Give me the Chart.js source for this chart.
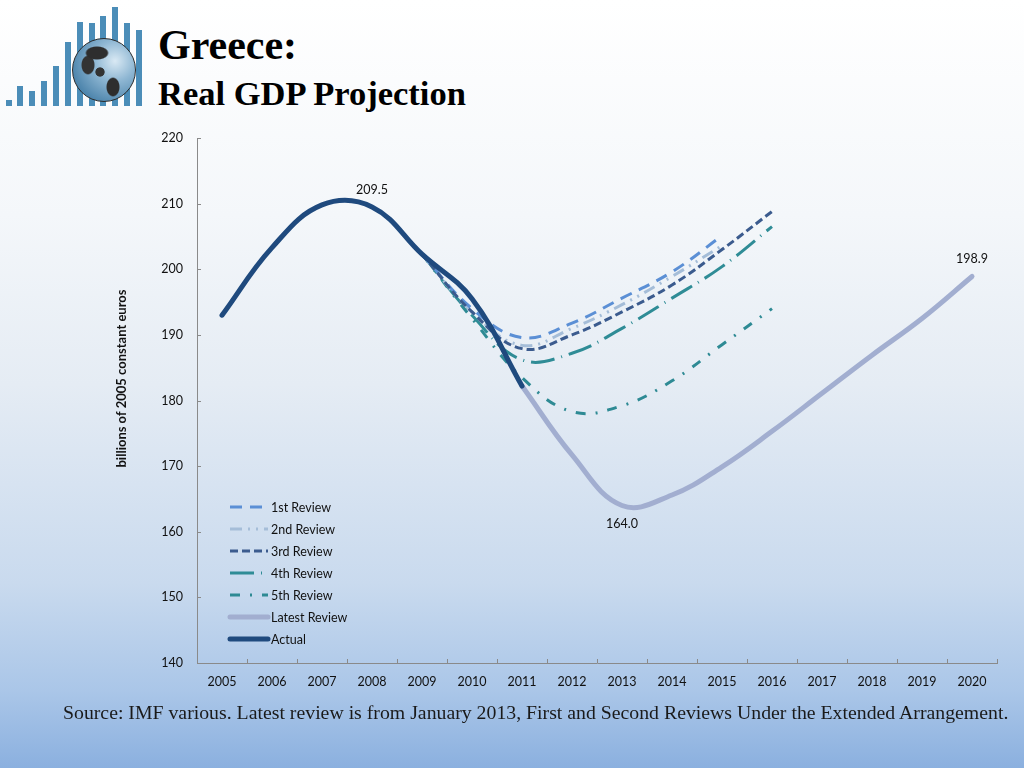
<!DOCTYPE html>
<html>
<head>
<meta charset="utf-8">
<script src="https://cdn.jsdelivr.net/npm/chart.js@4.4.1/dist/chart.umd.min.js"></script>
<style>
  html, body { margin: 0; padding: 0; }
  body {
    width: 1024px; height: 768px; position: relative; overflow: hidden;
    background: linear-gradient(to bottom, #ffffff 0%, #f4f7fa 28%, #e5ecf4 50%, #c9daee 76%, #aac6e8 90%, #8bb0df 100%);
  }
  #chart { position: absolute; left: 0; top: 0; }
  #logo { position: absolute; left: 0; top: 0; width: 150px; height: 110px; }
  .bar { position: absolute; width: 6px; background: #4b8db8; }
  #globe {
    position: absolute; left: 72px; top: 38px; width: 62px; height: 62px; border-radius: 50%;
    border: 1.5px solid #2c2c2c;
    background:
      radial-gradient(ellipse 12px 7px at 24px 14px, #2e2e2e 85%, transparent 100%),
      radial-gradient(ellipse 7px 10px at 15px 26px, #333 85%, transparent 100%),
      radial-gradient(ellipse 5px 5px at 27px 33px, #333 85%, transparent 100%),
      radial-gradient(ellipse 7px 10px at 40px 48px, #2e2e2e 85%, transparent 100%),
      radial-gradient(circle at 42px 22px, #d9e9f4 0%, #8fb7d3 35%, #4f86ad 75%, #3a6d93 100%);
  }
  .title { position: absolute; left: 158px; font-family: "Liberation Serif", serif; font-weight: bold; color: #000; white-space: nowrap; }
  #t1 { top: 20px; font-size: 42px; line-height: 50px; }
  #t2 { top: 73px; font-size: 34.5px; line-height: 40px; }
  #source {
    position: absolute; left: 63px; top: 703px; font-family: "Liberation Serif", serif;
    font-size: 18px; color: #1a1a1a; white-space: nowrap; transform-origin: left center;
  }
</style>
</head>
<body>
<div id="logo"></div>
<div class="title" id="t1">Greece:</div>
<div class="title" id="t2">Real GDP Projection</div>
<canvas id="chart" width="1024" height="768"></canvas>
<div id="source">Source: IMF various. Latest review is from January 2013, First and Second Reviews Under the Extended Arrangement.</div>
<script>
// data (billions of 2005 constant euros)
const years = ['2005', '2006', '2007', '2008', '2009', '2010', '2011', '2012',
  '2013', '2014', '2015', '2016', '2017', '2018', '2019', '2020'];
const actual = [193.0, 203.3, 209.8, 209.5, 202.3, 195.5, 182.2,
  null, null, null, null, null, null, null, null, null];
const review1 = [null, null, null, null, 202.3, 194.0, 189.6, 191.8, 195.6, 199.6, 205.1,
  null, null, null, null, null];
const review2 = [null, null, null, null, 202.3, 193.5, 188.4, 191.0, 194.6, 198.9, 203.6,
  null, null, null, null, null];
const review3 = [null, null, null, null, 202.3, 193.5, 187.9, 190.0, 193.5, 197.6, 203.0, 208.8,
  null, null, null, null];
const review4 = [null, null, null, null, 202.3, 193.0, 186.2, 187.2, 191.0, 195.6, 200.4, 206.5,
  null, null, null, null];
const review5 = [null, null, null, null, 202.3, 192.5, 183.5, 178.3, 179.2, 183.0, 188.5, 194.0,
  null, null, null, null];
const latest = [null, null, null, null, null, null, 182.2, 171.7, 164.0, 165.6, 169.9, 175.3,
  181.1, 186.9, 192.5, 198.9];
const yTicks = [140, 220, 10]; // min, max, step
const yTitle = 'billions of 2005 constant euros';
const valueLabels = [
  { series: 'Actual', year: '2008', dy: -17 },
  { series: 'Latest Review', year: '2013', dy: 18 },
  { series: 'Latest Review', year: '2020', dy: -18 }
];

// logo bars (decoration)
const logoBars = [[6, 100], [17, 86], [29, 91], [41, 81], [53, 66], [65, 42], [77, 22], [89, 23], [100, 16], [112, 7], [124, 23], [136, 30]];
const logo = document.getElementById('logo');
logoBars.forEach(([x, top]) => {
  const b = document.createElement('div');
  b.className = 'bar';
  b.style.left = x + 'px';
  b.style.top = top + 'px';
  b.style.height = (106 - top) + 'px';
  logo.appendChild(b);
});
const globe = document.createElement('div');
globe.id = 'globe';
logo.appendChild(globe);

const src = document.getElementById('source');
src.style.transform = 'scaleX(' + (945 / src.offsetWidth) + ')';

const FONT = 'Lato';

const insideTicks = {
  id: 'insideTicks',
  afterDraw(chart) {
    const { ctx, chartArea, scales } = chart;
    ctx.save();
    ctx.strokeStyle = '#8a8a8a';
    ctx.lineWidth = 1;
    scales.y.ticks.forEach((t, i) => {
      const y = Math.round(scales.y.getPixelForTick(i)) + 0.5;
      ctx.beginPath();
      ctx.moveTo(chartArea.left, y);
      ctx.lineTo(chartArea.left + 4, y);
      ctx.stroke();
    });
    const step = scales.x.width / years.length;
    for (let i = 1; i <= years.length; i++) {
      const x = Math.round(scales.x.left + i * step) + 0.5;
      ctx.beginPath();
      ctx.moveTo(x, chartArea.bottom);
      ctx.lineTo(x, chartArea.bottom - 4);
      ctx.stroke();
    }
    // y axis title, sitting a bit above the middle like the original
    ctx.translate(chartArea.left - 75, (chartArea.top + chartArea.bottom) / 2 - 22);
    ctx.rotate(-Math.PI / 2);
    ctx.font = 'bold 13px ' + FONT;
    ctx.fillStyle = '#111';
    ctx.textAlign = 'center';
    ctx.textBaseline = 'middle';
    ctx.fillText(yTitle, 0, 0);
    ctx.restore();
  }
};

const pointLabels = {
  id: 'pointLabels',
  afterDatasetsDraw(chart) {
    const { ctx, scales } = chart;
    ctx.save();
    ctx.font = '12.5px ' + FONT;
    ctx.fillStyle = '#111';
    ctx.textAlign = 'center';
    ctx.textBaseline = 'middle';
    valueLabels.forEach(l => {
      const ds = chart.data.datasets.find(d => d.label === l.series);
      const idx = years.indexOf(l.year);
      const v = ds.data[idx];
      ctx.fillText(v.toFixed(1), scales.x.getPixelForValue(idx), scales.y.getPixelForValue(v) + l.dy);
    });
    ctx.restore();
  }
};

const lineLegend = {
  id: 'lineLegend',
  afterDraw(chart) {
    const { ctx, chartArea } = chart;
    ctx.save();
    ctx.font = '12.5px ' + FONT;
    ctx.fillStyle = '#111';
    ctx.textBaseline = 'middle';
    chart.data.datasets.forEach((ds, i) => {
      const y = chartArea.bottom - 156 + i * 22;
      const x0 = chartArea.left + 33;
      ctx.strokeStyle = ds.borderColor;
      ctx.lineWidth = ds.borderWidth;
      ctx.setLineDash(ds.borderDash || []);
      ctx.lineCap = ds.borderWidth > 4 ? 'round' : 'butt';
      ctx.beginPath();
      ctx.moveTo(x0, y);
      ctx.lineTo(x0 + 38, y);
      ctx.stroke();
      ctx.fillText(ds.label, x0 + 41, y + 1);
    });
    ctx.restore();
  }
};

function series(label, data, color, width, dash, order) {
  return {
    label, data, borderColor: color, borderWidth: width, borderDash: dash,
    pointRadius: 0, tension: 0.4, fill: false, order,
    borderCapStyle: width > 4 ? 'round' : 'butt'
  };
}

new Chart(document.getElementById('chart').getContext('2d'), {
  type: 'line',
  data: {
    labels: years,
    datasets: [
      series('1st Review', review1, '#5b8fd5', 3, [12, 8], 3),
      series('2nd Review', review2, '#a5bdd8', 3, [12, 6, 2, 6, 2, 6], 4),
      series('3rd Review', review3, '#3b5b8e', 3, [8, 4], 2),
      series('4th Review', review4, '#2f8c96', 3, [24, 7, 1, 7], 5),
      series('5th Review', review5, '#2e8a94', 3, [10, 10, 2, 10], 6),
      series('Latest Review', latest, '#a2aed0', 5, [], 7),
      series('Actual', actual, '#1f4a7e', 5, [], 0)
    ]
  },
  options: {
    responsive: false,
    animation: false,
    layout: { padding: { left: 100, top: 138, right: 27, bottom: 70 } },
    plugins: { legend: { display: false }, tooltip: { enabled: false } },
    scales: {
      x: {
        offset: true,
        grid: { display: false, offset: true },
        border: { color: '#8a8a8a', width: 1 },
        ticks: { color: '#111', font: { family: FONT, size: 12.5 }, padding: 3, maxRotation: 0, autoSkip: false },
        afterFit: (axis) => { axis.height = 35; }
      },
      y: {
        min: yTicks[0],
        max: yTicks[1],
        grid: { drawOnChartArea: false, drawTicks: false },
        border: { color: '#8a8a8a', width: 1 },
        ticks: { stepSize: yTicks[2], color: '#111', font: { family: FONT, size: 12.5 }, padding: 14 },
        afterFit: (axis) => { axis.width = 97; }
      }
    }
  },
  plugins: [insideTicks, pointLabels, lineLegend]
});
</script>
</body>
</html>
